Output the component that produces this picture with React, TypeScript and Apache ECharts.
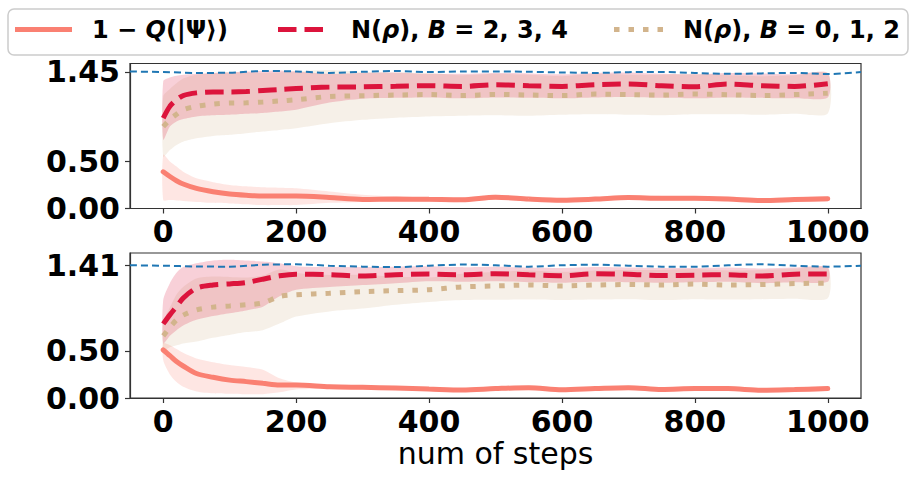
import React, { useEffect, useRef } from "react";
import * as echarts from "echarts";

// ---------- data ----------
const steps = [0, 10, 20, 30, 50, 75, 100, 125, 150, 175, 200, 250, 300, 350, 400, 450, 500, 550, 600, 650, 700, 750, 800, 850, 900, 950, 1000];
const blueSteps = [-50, 0, 50, 100, 150, 200, 250, 300, 350, 400, 450, 500, 550, 600, 650, 700, 750, 800, 850, 900, 950, 1000, 1050];
const xTicks = [0, 200, 400, 600, 800, 1000];
const topYTicks = [0, 0.5, 1.45];
const botYTicks = [0, 0.5, 1.41];
const legendNames = ["1 − Q(|Ψ⟩)", "N(ρ), B = 2, 3, 4", "N(ρ), B = 0, 1, 2"];
const xAxisTitle = "num of steps";

// top panel
const topSalmon = [0.39, 0.34, 0.295, 0.26, 0.213, 0.178, 0.153, 0.14, 0.132, 0.132, 0.132, 0.117, 0.096, 0.1, 0.097, 0.093, 0.12, 0.1, 0.088, 0.1, 0.117, 0.108, 0.108, 0.1, 0.085, 0.095, 0.103];
const topSalmonLo = [0.09, 0.09, 0.085, 0.08, 0.07, 0.06, 0.054, 0.045, 0.036, 0.036, 0.036, 0.06, 0.07, 0.075, 0.072, 0.068, 0.095, 0.075, 0.063, 0.075, 0.092, 0.083, 0.083, 0.075, 0.06, 0.07, 0.078];
const topSalmonHi = [0.57, 0.5, 0.445, 0.39, 0.32, 0.28, 0.25, 0.235, 0.225, 0.22, 0.214, 0.18, 0.145, 0.125, 0.122, 0.118, 0.145, 0.125, 0.113, 0.125, 0.142, 0.133, 0.133, 0.125, 0.11, 0.12, 0.128];
const topRed = [0.96, 1.085, 1.155, 1.2, 1.228, 1.238, 1.238, 1.242, 1.253, 1.264, 1.274, 1.29, 1.292, 1.298, 1.304, 1.297, 1.315, 1.304, 1.297, 1.315, 1.322, 1.304, 1.293, 1.322, 1.304, 1.297, 1.325];
const topRedLo = [0.73, 0.87, 0.925, 0.95, 0.978, 0.99, 0.995, 1.005, 1.015, 1.03, 1.05, 1.125, 1.165, 1.175, 1.18, 1.17, 1.18, 1.175, 1.17, 1.18, 1.185, 1.175, 1.17, 1.18, 1.175, 1.17, 1.18];
const topRedHi = [1.35, 1.39, 1.41, 1.42, 1.43, 1.44, 1.445, 1.455, 1.46, 1.465, 1.455, 1.43, 1.44, 1.445, 1.43, 1.43, 1.44, 1.435, 1.425, 1.44, 1.445, 1.43, 1.425, 1.44, 1.435, 1.425, 1.44];
const topTan = [0.87, 0.945, 1.0, 1.048, 1.085, 1.108, 1.12, 1.122, 1.13, 1.142, 1.155, 1.19, 1.198, 1.205, 1.21, 1.2, 1.212, 1.205, 1.2, 1.215, 1.21, 1.205, 1.215, 1.208, 1.2, 1.21, 1.225];
const topTanLo = [0.55, 0.62, 0.675, 0.71, 0.745, 0.77, 0.782, 0.8, 0.817, 0.835, 0.853, 0.905, 0.942, 0.965, 0.978, 0.985, 0.99, 0.985, 0.995, 1.0, 0.995, 0.99, 1.0, 1.0, 0.995, 1.005, 1.01];
const topTanHi = [1.19, 1.27, 1.33, 1.38, 1.42, 1.44, 1.45, 1.445, 1.44, 1.445, 1.455, 1.47, 1.45, 1.445, 1.44, 1.415, 1.43, 1.42, 1.405, 1.43, 1.42, 1.42, 1.43, 1.415, 1.405, 1.415, 1.44];
const topBlue = [1.455, 1.45, 1.44, 1.442, 1.46, 1.456, 1.44, 1.452, 1.46, 1.45, 1.455, 1.456, 1.452, 1.445, 1.44, 1.448, 1.45, 1.44, 1.43, 1.435, 1.44, 1.428, 1.45];

// bottom panel
const botSalmon = [0.51, 0.45, 0.387, 0.34, 0.26, 0.22, 0.19, 0.174, 0.156, 0.138, 0.138, 0.12, 0.113, 0.105, 0.095, 0.085, 0.1, 0.11, 0.088, 0.1, 0.11, 0.09, 0.1, 0.1, 0.083, 0.09, 0.1];
const botSalmonLo = [0.4, 0.25, 0.17, 0.12, 0.07, 0.05, 0.045, 0.04, 0.04, 0.06, 0.09, 0.095, 0.09, 0.083, 0.073, 0.063, 0.078, 0.088, 0.066, 0.078, 0.088, 0.068, 0.078, 0.078, 0.061, 0.068, 0.078];
const botSalmonHi = [0.58, 0.56, 0.52, 0.48, 0.42, 0.38, 0.35, 0.33, 0.3, 0.21, 0.165, 0.145, 0.135, 0.127, 0.117, 0.107, 0.122, 0.132, 0.11, 0.122, 0.132, 0.112, 0.122, 0.122, 0.105, 0.112, 0.122];
const botRed = [0.787, 0.883, 0.97, 1.06, 1.166, 1.2, 1.212, 1.227, 1.262, 1.298, 1.315, 1.309, 1.295, 1.31, 1.316, 1.309, 1.32, 1.309, 1.298, 1.319, 1.315, 1.3, 1.305, 1.31, 1.295, 1.315, 1.318];
const botRedLo = [0.58, 0.66, 0.72, 0.77, 0.83, 0.87, 0.9, 0.93, 0.97, 1.08, 1.15, 1.18, 1.2, 1.22, 1.24, 1.235, 1.24, 1.23, 1.225, 1.235, 1.23, 1.225, 1.23, 1.235, 1.22, 1.23, 1.235];
const botRedHi = [1.04, 1.22, 1.33, 1.39, 1.43, 1.46, 1.468, 1.46, 1.45, 1.43, 1.4, 1.39, 1.39, 1.395, 1.4, 1.39, 1.395, 1.385, 1.38, 1.39, 1.385, 1.38, 1.38, 1.385, 1.375, 1.385, 1.39];
const botTan = [0.66, 0.75, 0.83, 0.88, 0.936, 0.965, 0.978, 0.99, 1.01, 1.078, 1.096, 1.113, 1.13, 1.14, 1.15, 1.18, 1.19, 1.2, 1.19, 1.2, 1.205, 1.2, 1.21, 1.2, 1.205, 1.215, 1.22];
const botTanLo = [0.51, 0.54, 0.56, 0.58, 0.6, 0.64, 0.67, 0.7, 0.72, 0.79, 0.865, 0.92, 0.95, 0.99, 1.02, 1.04, 1.043, 1.045, 1.04, 1.045, 1.05, 1.04, 1.05, 1.045, 1.05, 1.055, 1.06];
const botTanHi = [0.81, 0.96, 1.1, 1.18, 1.27, 1.29, 1.286, 1.28, 1.3, 1.366, 1.327, 1.306, 1.31, 1.29, 1.28, 1.32, 1.337, 1.355, 1.34, 1.355, 1.36, 1.36, 1.37, 1.355, 1.36, 1.375, 1.38];
const botBlue = [1.41, 1.405, 1.397, 1.395, 1.415, 1.42, 1.405, 1.395, 1.39, 1.405, 1.417, 1.41, 1.395, 1.41, 1.415, 1.405, 1.395, 1.395, 1.41, 1.42, 1.405, 1.395, 1.405];

// ---------- styles ----------
const SALMON = "#FA8072";
const CRIMSON = "#DC143C";
const TAN = "#D2B48C";
const BLUE = "#1f77b4";
const FONT = "DejaVu Sans";
const Y_MAX = 1.54;

const pairs = (xs: number[], ys: number[]) => xs.map((x, i) => [x, ys[i]]);

function band(idx: number, lo: number[], hi: number[], color: string) {
  return {
    type: "custom",
    xAxisIndex: idx,
    yAxisIndex: idx,
    silent: true,
    clip: true,
    data: steps.map((s, i) => [s, lo[i], hi[i]]),
    encode: { x: 0, y: [1, 2] },
    renderItem: (params: any, api: any) => {
      if (params.dataIndex !== 0) return null;
      const pts: number[][] = [];
      for (let i = 0; i < steps.length; i++) pts.push(api.coord([steps[i], lo[i]]));
      for (let i = steps.length - 1; i >= 0; i--) pts.push(api.coord([steps[i], hi[i]]));
      return {
        type: "polygon",
        shape: { points: pts, smooth: 0.25 },
        style: { fill: color, opacity: 0.2 },
      };
    },
  };
}

function panel(idx: number, d: any) {
  return [
    band(idx, d.tanLo, d.tanHi, TAN),
    band(idx, d.redLo, d.redHi, CRIMSON),
    band(idx, d.salLo, d.salHi, SALMON),
    {
      type: "line", xAxisIndex: idx, yAxisIndex: idx, data: pairs(blueSteps, d.blue), symbol: "none",
      smooth: 0.3, lineStyle: { color: BLUE, width: 2, type: [7, 4] },
    },
    {
      type: "line", name: legendNames[0], xAxisIndex: idx, yAxisIndex: idx, data: pairs(steps, d.sal), symbol: "none",
      smooth: 0.3, lineStyle: { color: SALMON, width: 5, cap: "round" },
    },
    {
      type: "line", name: legendNames[1], xAxisIndex: idx, yAxisIndex: idx, data: pairs(steps, d.red), symbol: "none",
      smooth: 0.3, lineStyle: { color: CRIMSON, width: 5, type: [18.5, 8] },
    },
    {
      type: "line", name: legendNames[2], xAxisIndex: idx, yAxisIndex: idx, data: pairs(steps, d.tan), symbol: "none",
      smooth: 0.3, lineStyle: { color: TAN, width: 5, type: [5.5, 9] },
    },
  ];
}

function xAxis(idx: number, withName: boolean) {
  return {
    type: "value", gridIndex: idx, min: -50, max: 1050,
    splitLine: { show: false },
    axisLine: { show: true, onZero: false, lineStyle: { color: "#333", width: 1.2 } },
    axisTick: { show: true, customValues: xTicks, length: 5, lineStyle: { color: "#333", width: 1.2 } },
    axisLabel: {
      customValues: xTicks, margin: 8, color: "#000", fontFamily: FONT, fontWeight: "bold", fontSize: 30,
      formatter: (v: number) => String(Math.round(v)),
    },
    name: withName ? xAxisTitle : "",
    nameLocation: "middle",
    nameGap: 40,
    nameTextStyle: { color: "#000", fontFamily: FONT, fontSize: 30, fontWeight: "normal" },
  };
}

function yAxis(idx: number, ticks: number[]) {
  return {
    type: "value", gridIndex: idx, min: 0, max: Y_MAX,
    splitLine: { show: false },
    axisLine: { show: true, onZero: false, lineStyle: { color: "#333", width: 1.2 } },
    axisTick: { show: true, customValues: ticks, length: 5, lineStyle: { color: "#333", width: 1.2 } },
    axisLabel: {
      customValues: ticks, margin: 10, color: "#000", fontFamily: FONT, fontWeight: "bold", fontSize: 30,
      formatter: (v: number) => v.toFixed(2),
    },
  };
}

const legendRich = {
  n: { fontFamily: FONT, fontWeight: "bold", fontSize: 24, fill: "#000" },
  i: { fontFamily: FONT, fontWeight: "bold", fontStyle: "italic", fontSize: 24, fill: "#000" },
};

export default function App() {
  const ref = useRef<HTMLDivElement>(null);
  useEffect(() => {
    if (!ref.current) return;
    const chart = echarts.init(ref.current, null, { renderer: "svg" });
    const top = { sal: topSalmon, salLo: topSalmonLo, salHi: topSalmonHi, red: topRed, redLo: topRedLo, redHi: topRedHi, tan: topTan, tanLo: topTanLo, tanHi: topTanHi, blue: topBlue };
    const bot = { sal: botSalmon, salLo: botSalmonLo, salHi: botSalmonHi, red: botRed, redLo: botRedLo, redHi: botRedHi, tan: botTan, tanLo: botTanLo, tanHi: botTanHi, blue: botBlue };
    chart.setOption({
      animation: false,
      backgroundColor: "#fff",
      grid: [
        { left: 130, top: 63.5, width: 731, height: 145, show: true, borderColor: "#333", borderWidth: 1.2, backgroundColor: "transparent" },
        { left: 130, top: 253, width: 731, height: 145, show: true, borderColor: "#333", borderWidth: 1.2, backgroundColor: "transparent" },
      ],
      xAxis: [xAxis(0, false), xAxis(1, true)],
      yAxis: [yAxis(0, topYTicks), yAxis(1, botYTicks)],
      series: [...panel(0, top), ...panel(1, bot)],
      graphic: [
        {
          type: "rect", z: 100, shape: { x: 8, y: 9, width: 900, height: 46, r: 6 },
          style: { fill: "#fff", stroke: "#cccccc", lineWidth: 1.5 },
        },
        { type: "line", z: 101, shape: { x1: 15, y1: 29.5, x2: 72, y2: 29.5 }, style: { stroke: SALMON, lineWidth: 5 } },
        { type: "line", z: 101, shape: { x1: 278, y1: 29.5, x2: 329, y2: 29.5 }, style: { stroke: CRIMSON, lineWidth: 5, lineDash: [18.5, 8] } },
        { type: "line", z: 101, shape: { x1: 614, y1: 29.5, x2: 664, y2: 29.5 }, style: { stroke: TAN, lineWidth: 5, lineDash: [5.5, 9] } },
        {
          type: "text", z: 101, x: 92, y: 30,
          style: { text: "{n|1 − }{i|Q}{n|(|Ψ⟩)}", rich: legendRich, verticalAlign: "middle", align: "left" },
        },
        {
          type: "text", z: 101, x: 351, y: 30,
          style: { text: "{n|N(}{i|ρ}{n|), }{i|B}{n| = 2, 3, 4}", rich: legendRich, verticalAlign: "middle", align: "left" },
        },
        {
          type: "text", z: 101, x: 683, y: 30,
          style: { text: "{n|N(}{i|ρ}{n|), }{i|B}{n| = 0, 1, 2}", rich: legendRich, verticalAlign: "middle", align: "left" },
        },
      ],
    });
    return () => chart.dispose();
  }, []);
  return <div ref={ref} style={{ position: "fixed", left: 0, top: 0, width: 917, height: 480 }} />;
}
